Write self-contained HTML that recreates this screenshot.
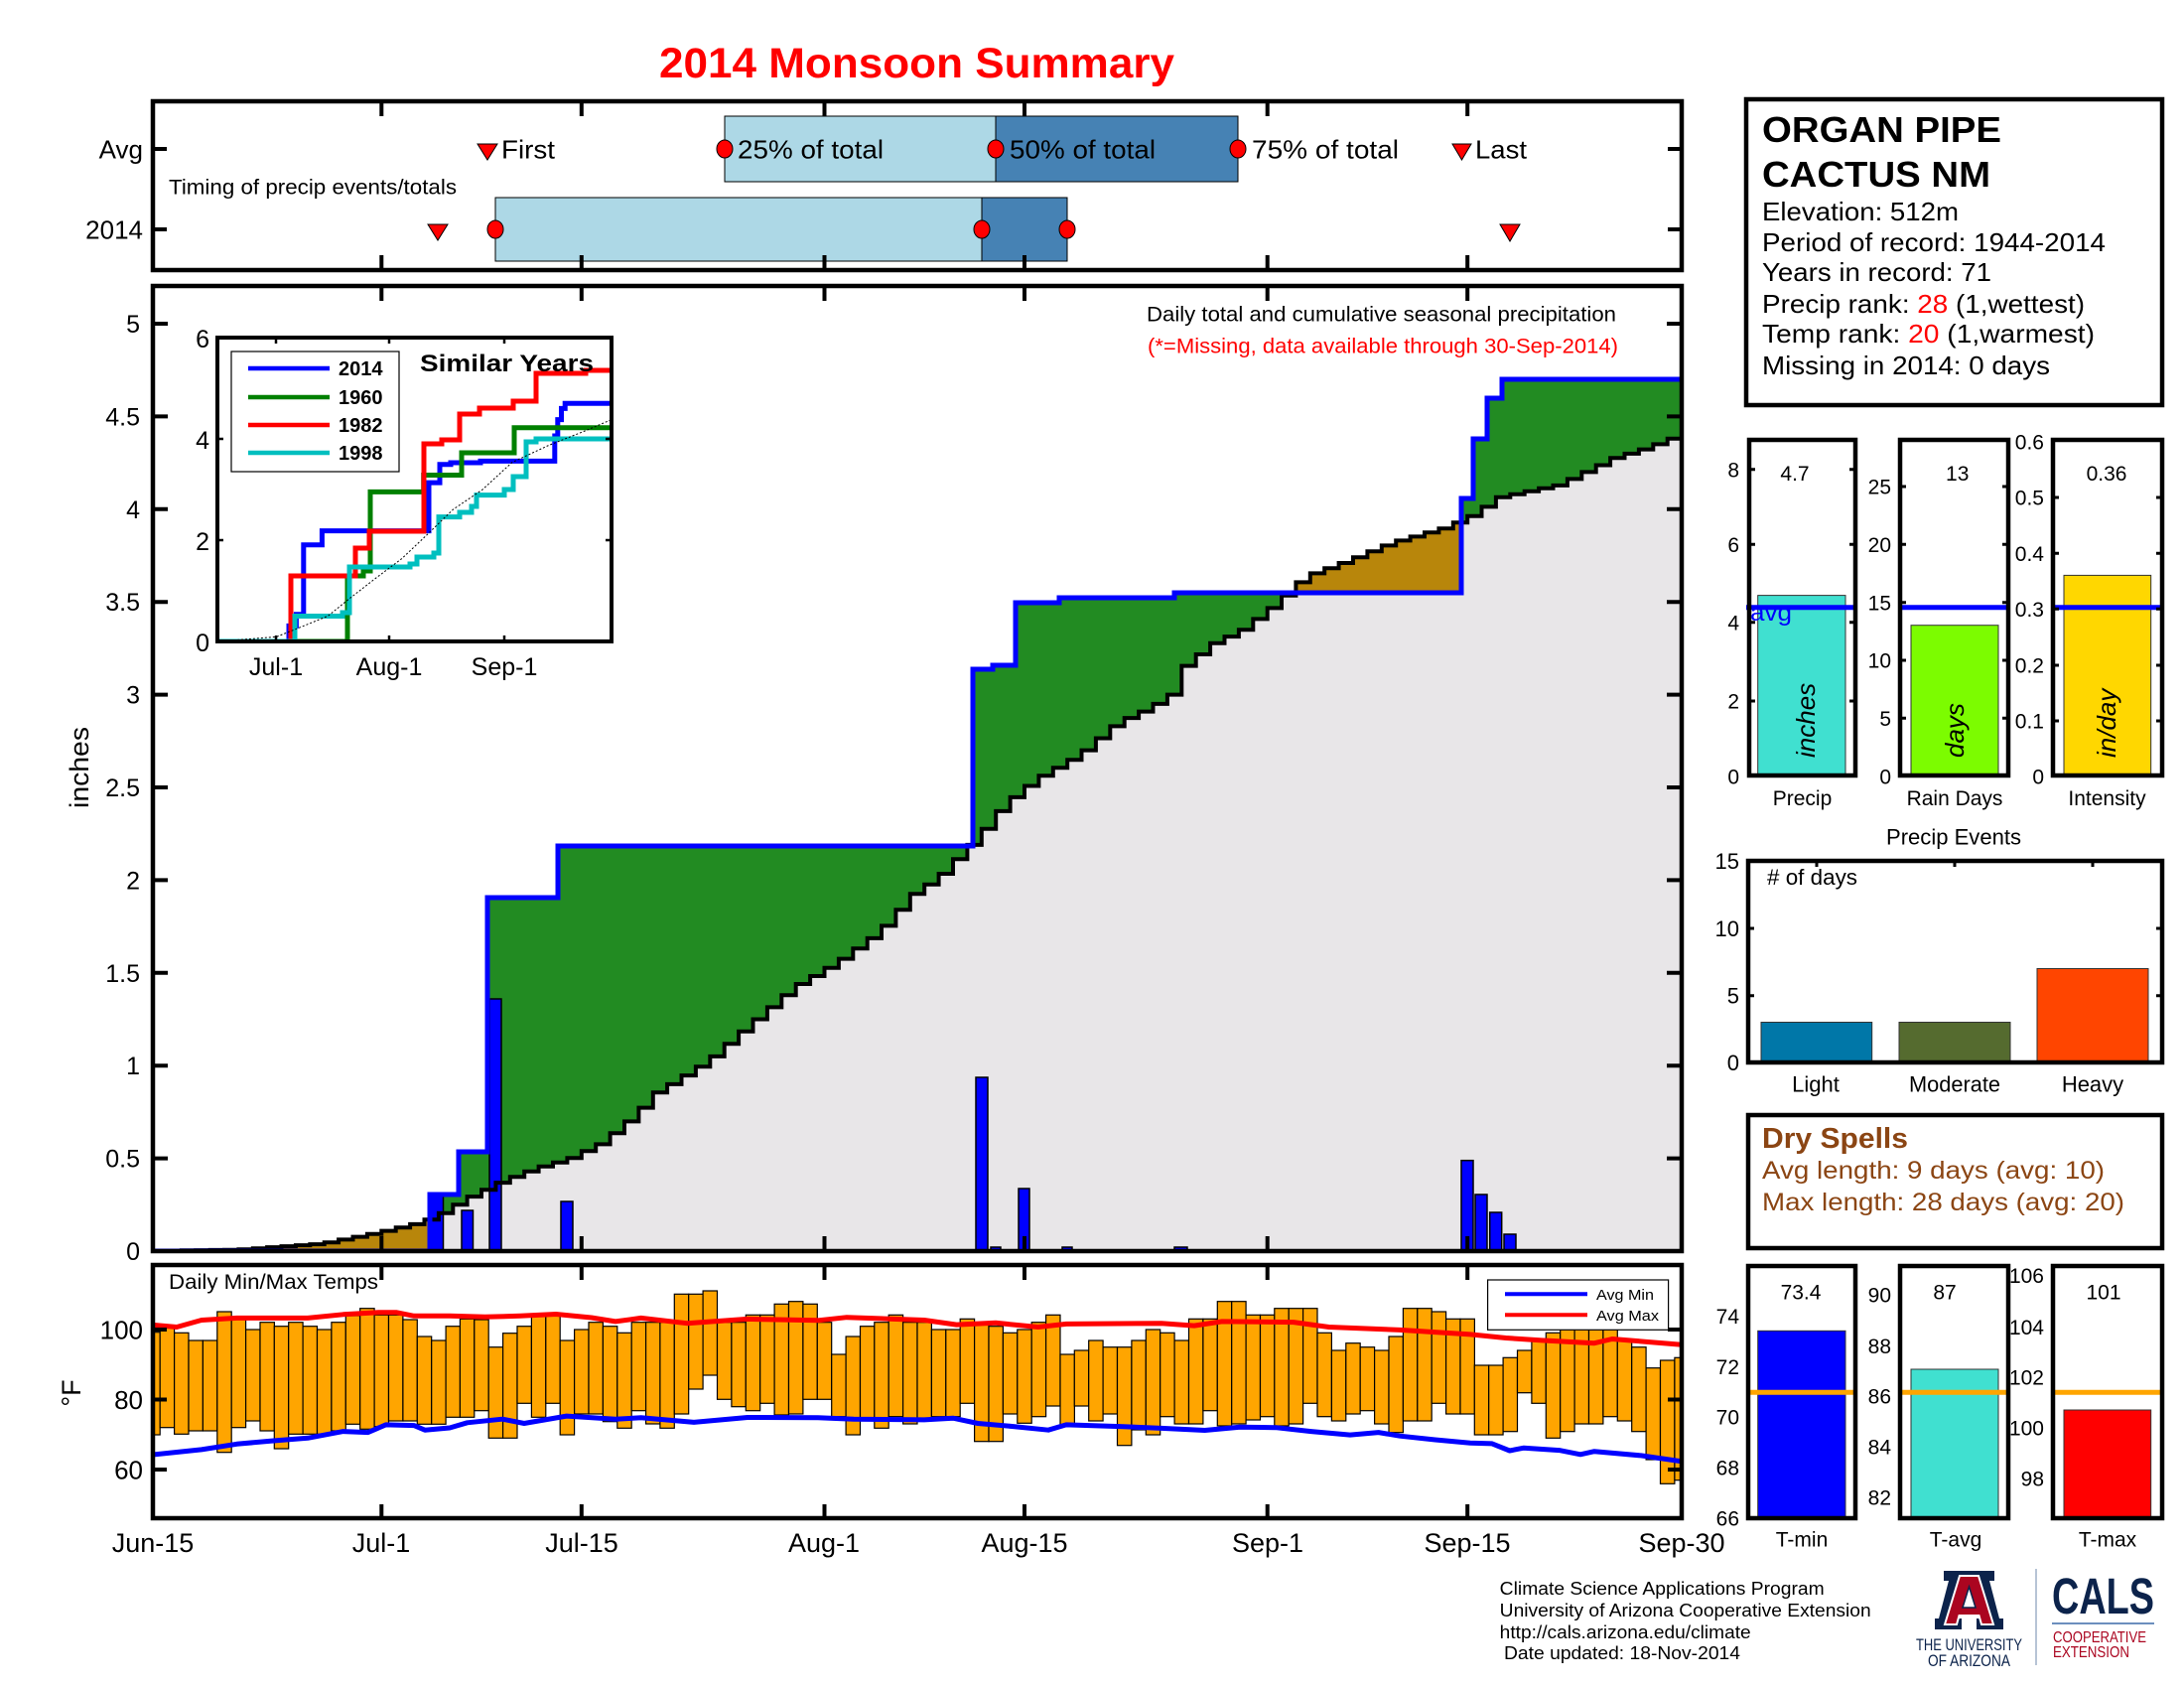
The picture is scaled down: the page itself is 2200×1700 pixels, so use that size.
<!DOCTYPE html>
<html><head><meta charset="utf-8">
<style>
html,body{margin:0;padding:0;background:#fff;}
svg{display:block;}
text{font-family:"Liberation Sans",Arial,sans-serif;}
</style></head><body>
<svg width="2200" height="1700" viewBox="0 0 2200 1700">
<defs>
<clipPath id="c2014"><path d="M154 1260 H433 V1203 H462 V1160 H491 V904 H562 V852 H980 V674 H1000 V670 H1023 V607 H1067 V602 H1183 V597 H1472 V502 H1484 V442 H1498 V401 H1513 V382 H1694 V1260 Z"/></clipPath>
<clipPath id="cmain"><rect x="154" y="288" width="1540" height="972"/></clipPath>
<clipPath id="ctemp"><rect x="154" y="1274" width="1540" height="255"/></clipPath>
<clipPath id="cinset"><rect x="219" y="340" width="397" height="306"/></clipPath>
</defs>
<rect x="0" y="0" width="2200" height="1700" fill="#fff"/>

<!-- Title -->
<text x="664" y="78" font-size="43" font-weight="bold" fill="#FF0000" textLength="519" lengthAdjust="spacingAndGlyphs">2014 Monsoon Summary</text>

<!-- Timing panel -->
<rect x="730" y="117" width="273" height="66" fill="#ADD8E6" stroke="#000" stroke-width="1"/>
<rect x="1003" y="117" width="244" height="66" fill="#4682B4" stroke="#000" stroke-width="1"/>
<rect x="499" y="199" width="490" height="64" fill="#ADD8E6" stroke="#000" stroke-width="1"/>
<rect x="989" y="199" width="86" height="64" fill="#4682B4" stroke="#000" stroke-width="1"/>
<g fill="#FF0000" stroke="#000" stroke-width="1">
<ellipse cx="730" cy="150" rx="8" ry="9"/>
<ellipse cx="1003" cy="150" rx="8" ry="9"/>
<ellipse cx="1247" cy="150" rx="8" ry="9"/>
<ellipse cx="499" cy="231" rx="8" ry="9"/>
<ellipse cx="989" cy="231" rx="8" ry="9"/>
<ellipse cx="1075" cy="231" rx="8" ry="9"/>
<polygon points="481,145 501,145 491,161"/>
<polygon points="431,226 451,226 441,242"/>
<polygon points="1463,145 1482,145 1472.5,161"/>
<polygon points="1511,226 1531,226 1521,243"/>
</g>
<g font-size="26" fill="#000">
<text x="505" y="159.5" textLength="54" lengthAdjust="spacingAndGlyphs">First</text>
<text x="743" y="159.5" textLength="147" lengthAdjust="spacingAndGlyphs">25% of total</text>
<text x="1017" y="159.5" textLength="147" lengthAdjust="spacingAndGlyphs">50% of total</text>
<text x="1261" y="159.5" textLength="148" lengthAdjust="spacingAndGlyphs">75% of total</text>
<text x="1486" y="159.5" textLength="52" lengthAdjust="spacingAndGlyphs">Last</text>
<text x="144" y="159.5" text-anchor="end">Avg</text>
<text x="144" y="240.5" text-anchor="end">2014</text>
</g>
<text x="170" y="195.5" font-size="21" textLength="290" lengthAdjust="spacingAndGlyphs">Timing of precip events/totals</text>
<g stroke="#000" stroke-width="4">
<path d="M384.3 102 V117 M585.8 102 V117 M830.5 102 V117 M1032 102 V117 M1276.7 102 V117 M1478.2 102 V117"/>
<path d="M384.3 257 V272 M585.8 257 V272 M830.5 257 V272 M1032 257 V272 M1276.7 257 V272 M1478.2 257 V272"/>
<path d="M154 150 H168 M154 231 H168 M1680 150 H1694 M1680 231 H1694"/>
</g>
<rect x="154" y="102" width="1540" height="170" fill="none" stroke="#000" stroke-width="4.5"/>

<!-- Main precip panel fills -->
<g clip-path="url(#cmain)">
<path d="M154 1260 H433 V1203 H462 V1160 H491 V904 H562 V852 H980 V674 H1000 V670 H1023 V607 H1067 V602 H1183 V597 H1472 V502 H1484 V442 H1498 V401 H1513 V382 H1694 V1260 Z" fill="#228B22"/>
<path d="M154 1260 V1259.8 H168.4 V1259.6 H182.8 V1259.3 H197.2 V1259.1 H211.6 V1258.9 H226 V1258.7 H240.4 V1258.2 H254.8 V1257.2 H269.1 V1256.1 H283.5 V1255.1 H297.9 V1254.1 H312.3 V1253.1 H326.7 V1251.2 H341.1 V1248.4 H355.5 V1245.6 H369.9 V1242.8 H384.3 V1239.6 H398.7 V1236.3 H413.1 V1232.9 H427.5 V1228.2 H441.9 V1221.7 H456.3 V1213.3 H470.6 V1205.1 H485 V1198.2 H499.4 V1191.1 H513.8 V1185.3 H528.2 V1179.7 H542.6 V1174.8 H557 V1170.7 H571.4 V1166.2 H585.8 V1159.3 H600.2 V1152.4 H614.6 V1141.2 H629 V1129.4 H643.4 V1115.6 H657.8 V1100.3 H672.1 V1091.9 H686.5 V1083.1 H700.9 V1074.3 H715.3 V1063.9 H729.7 V1051.3 H744.1 V1038.8 H758.5 V1026.5 H772.9 V1014.4 H787.3 V1002.2 H801.7 V991 H816.1 V983 H830.5 V974.8 H844.9 V965.6 H859.3 V955.3 H873.7 V944.9 H888 V932.4 H902.4 V916.3 H916.8 V900.2 H931.2 V890.7 H945.6 V880 H960 V865.3 H974.4 V850.9 H988.8 V834.7 H1003.2 V816.9 H1017.6 V802.9 H1032 V791.5 H1046.4 V781.2 H1060.8 V773.2 H1075.2 V765.2 H1089.5 V755.6 H1103.9 V743.5 H1118.3 V731.4 H1132.7 V723.1 H1147.1 V716.6 H1161.5 V708.9 H1175.9 V699.6 H1190.3 V670.6 H1204.7 V659 H1219.1 V647.8 H1233.5 V641.1 H1247.9 V634.2 H1262.3 V623.4 H1276.7 V612.4 H1291 V599.7 H1305.4 V586.4 H1319.8 V577.4 H1334.2 V572.2 H1348.6 V567 H1363 V561.2 H1377.4 V555.2 H1391.8 V549.4 H1406.2 V544.4 H1420.6 V540.4 H1435 V536.3 H1449.4 V532.2 H1463.8 V526.2 H1478.2 V519.7 H1492.5 V510.4 H1506.9 V500.7 H1521.3 V497.7 H1535.7 V494.7 H1550.1 V491.7 H1564.5 V488.9 H1578.9 V482.4 H1593.3 V475.4 H1607.7 V468.5 H1622.1 V461.2 H1636.5 V456.9 H1650.9 V452.6 H1665.3 V447.4 H1679.7 V441.8 H1694 V1260 Z" fill="#B8860B"/>
<path d="M154 1260 V1259.8 H168.4 V1259.6 H182.8 V1259.3 H197.2 V1259.1 H211.6 V1258.9 H226 V1258.7 H240.4 V1258.2 H254.8 V1257.2 H269.1 V1256.1 H283.5 V1255.1 H297.9 V1254.1 H312.3 V1253.1 H326.7 V1251.2 H341.1 V1248.4 H355.5 V1245.6 H369.9 V1242.8 H384.3 V1239.6 H398.7 V1236.3 H413.1 V1232.9 H427.5 V1228.2 H441.9 V1221.7 H456.3 V1213.3 H470.6 V1205.1 H485 V1198.2 H499.4 V1191.1 H513.8 V1185.3 H528.2 V1179.7 H542.6 V1174.8 H557 V1170.7 H571.4 V1166.2 H585.8 V1159.3 H600.2 V1152.4 H614.6 V1141.2 H629 V1129.4 H643.4 V1115.6 H657.8 V1100.3 H672.1 V1091.9 H686.5 V1083.1 H700.9 V1074.3 H715.3 V1063.9 H729.7 V1051.3 H744.1 V1038.8 H758.5 V1026.5 H772.9 V1014.4 H787.3 V1002.2 H801.7 V991 H816.1 V983 H830.5 V974.8 H844.9 V965.6 H859.3 V955.3 H873.7 V944.9 H888 V932.4 H902.4 V916.3 H916.8 V900.2 H931.2 V890.7 H945.6 V880 H960 V865.3 H974.4 V850.9 H988.8 V834.7 H1003.2 V816.9 H1017.6 V802.9 H1032 V791.5 H1046.4 V781.2 H1060.8 V773.2 H1075.2 V765.2 H1089.5 V755.6 H1103.9 V743.5 H1118.3 V731.4 H1132.7 V723.1 H1147.1 V716.6 H1161.5 V708.9 H1175.9 V699.6 H1190.3 V670.6 H1204.7 V659 H1219.1 V647.8 H1233.5 V641.1 H1247.9 V634.2 H1262.3 V623.4 H1276.7 V612.4 H1291 V599.7 H1305.4 V586.4 H1319.8 V577.4 H1334.2 V572.2 H1348.6 V567 H1363 V561.2 H1377.4 V555.2 H1391.8 V549.4 H1406.2 V544.4 H1420.6 V540.4 H1435 V536.3 H1449.4 V532.2 H1463.8 V526.2 H1478.2 V519.7 H1492.5 V510.4 H1506.9 V500.7 H1521.3 V497.7 H1535.7 V494.7 H1550.1 V491.7 H1564.5 V488.9 H1578.9 V482.4 H1593.3 V475.4 H1607.7 V468.5 H1622.1 V461.2 H1636.5 V456.9 H1650.9 V452.6 H1665.3 V447.4 H1679.7 V441.8 H1694 V1260 Z" fill="#E8E6E8" clip-path="url(#c2014)"/>
<!-- daily bars -->
<g fill="#0000FF" stroke="#000" stroke-width="1.5">
<rect x="433" y="1203" width="13.5" height="57"/>
<rect x="465" y="1219" width="11.5" height="41"/>
<rect x="493" y="1006" width="12" height="254"/>
<rect x="565" y="1210" width="12" height="50"/>
<rect x="983" y="1085" width="12" height="175"/>
<rect x="998" y="1256" width="10" height="4"/>
<rect x="1026" y="1197" width="11" height="63"/>
<rect x="1070" y="1256" width="10" height="4"/>
<rect x="1183" y="1256" width="13" height="4"/>
<rect x="1472" y="1168.7" width="12" height="91.3"/>
<rect x="1486" y="1203" width="12" height="57"/>
<rect x="1500.7" y="1221" width="12" height="39"/>
<rect x="1515" y="1243" width="12" height="17"/>
</g>
<!-- avg line -->
<path d="M154 1259.8 H168.4 V1259.6 H182.8 V1259.3 H197.2 V1259.1 H211.6 V1258.9 H226 V1258.7 H240.4 V1258.2 H254.8 V1257.2 H269.1 V1256.1 H283.5 V1255.1 H297.9 V1254.1 H312.3 V1253.1 H326.7 V1251.2 H341.1 V1248.4 H355.5 V1245.6 H369.9 V1242.8 H384.3 V1239.6 H398.7 V1236.3 H413.1 V1232.9 H427.5 V1228.2 H441.9 V1221.7 H456.3 V1213.3 H470.6 V1205.1 H485 V1198.2 H499.4 V1191.1 H513.8 V1185.3 H528.2 V1179.7 H542.6 V1174.8 H557 V1170.7 H571.4 V1166.2 H585.8 V1159.3 H600.2 V1152.4 H614.6 V1141.2 H629 V1129.4 H643.4 V1115.6 H657.8 V1100.3 H672.1 V1091.9 H686.5 V1083.1 H700.9 V1074.3 H715.3 V1063.9 H729.7 V1051.3 H744.1 V1038.8 H758.5 V1026.5 H772.9 V1014.4 H787.3 V1002.2 H801.7 V991 H816.1 V983 H830.5 V974.8 H844.9 V965.6 H859.3 V955.3 H873.7 V944.9 H888 V932.4 H902.4 V916.3 H916.8 V900.2 H931.2 V890.7 H945.6 V880 H960 V865.3 H974.4 V850.9 H988.8 V834.7 H1003.2 V816.9 H1017.6 V802.9 H1032 V791.5 H1046.4 V781.2 H1060.8 V773.2 H1075.2 V765.2 H1089.5 V755.6 H1103.9 V743.5 H1118.3 V731.4 H1132.7 V723.1 H1147.1 V716.6 H1161.5 V708.9 H1175.9 V699.6 H1190.3 V670.6 H1204.7 V659 H1219.1 V647.8 H1233.5 V641.1 H1247.9 V634.2 H1262.3 V623.4 H1276.7 V612.4 H1291 V599.7 H1305.4 V586.4 H1319.8 V577.4 H1334.2 V572.2 H1348.6 V567 H1363 V561.2 H1377.4 V555.2 H1391.8 V549.4 H1406.2 V544.4 H1420.6 V540.4 H1435 V536.3 H1449.4 V532.2 H1463.8 V526.2 H1478.2 V519.7 H1492.5 V510.4 H1506.9 V500.7 H1521.3 V497.7 H1535.7 V494.7 H1550.1 V491.7 H1564.5 V488.9 H1578.9 V482.4 H1593.3 V475.4 H1607.7 V468.5 H1622.1 V461.2 H1636.5 V456.9 H1650.9 V452.6 H1665.3 V447.4 H1679.7 V441.8 H1694" fill="none" stroke="#000" stroke-width="4"/>
<!-- 2014 line -->
<path d="M154 1260 H433 V1203 H462 V1160 H491 V904 H562 V852 H980 V674 H1000 V670 H1023 V607 H1067 V602 H1183 V597 H1472 V502 H1484 V442 H1498 V401 H1513 V382 H1694" fill="none" stroke="#0000FF" stroke-width="5"/>
</g>
<!-- main ticks -->
<g stroke="#000" stroke-width="4">
<path d="M384.3 288 V303 M585.8 288 V303 M830.5 288 V303 M1032 288 V303 M1276.7 288 V303 M1478.2 288 V303"/>
<path d="M384.3 1245 V1260 M585.8 1245 V1260 M830.5 1245 V1260 M1032 1245 V1260 M1276.7 1245 V1260 M1478.2 1245 V1260"/>
<path d="M154 1166.6 H169 M154 1073.2 H169 M154 979.8 H169 M154 886.4 H169 M154 793 H169 M154 699.6 H169 M154 606.2 H169 M154 512.8 H169 M154 419.4 H169 M154 326 H169"/>
<path d="M1679 1166.6 H1694 M1679 1073.2 H1694 M1679 979.8 H1694 M1679 886.4 H1694 M1679 793 H1694 M1679 699.6 H1694 M1679 606.2 H1694 M1679 512.8 H1694 M1679 419.4 H1694 M1679 326 H1694"/>
</g>
<rect x="154" y="288" width="1540" height="972" fill="none" stroke="#000" stroke-width="4.5"/>
<g font-size="25" text-anchor="end">
<text x="141" y="1269">0</text>
<text x="141" y="1175.6">0.5</text>
<text x="141" y="1082.2">1</text>
<text x="141" y="988.8">1.5</text>
<text x="141" y="895.4">2</text>
<text x="141" y="802">2.5</text>
<text x="141" y="708.6">3</text>
<text x="141" y="615.2">3.5</text>
<text x="141" y="521.8">4</text>
<text x="141" y="428.4">4.5</text>
<text x="141" y="335">5</text>
</g>
<text transform="translate(89,773) rotate(-90)" font-size="27" text-anchor="middle" textLength="82" lengthAdjust="spacingAndGlyphs">inches</text>
<text x="1155" y="323.5" font-size="21" textLength="473" lengthAdjust="spacingAndGlyphs">Daily total and cumulative seasonal precipitation</text>
<text x="1156" y="355.5" font-size="21" fill="#FF0000" textLength="474" lengthAdjust="spacingAndGlyphs">(*=Missing, data available through 30-Sep-2014)</text>

<!-- Inset -->
<rect x="219" y="340" width="397" height="306" fill="#fff"/>
<g clip-path="url(#cinset)" fill="none" stroke-width="5">
<path d="M219 646 H291 V630.4 H298.4 V618.7 H305.8 V548.7 H324.4 V534.6 H432 V486.1 H443 V467.8 H454 V466 H484 V464.4 H558.8 V439 H561.8 V422.6 H565.5 V411.4 H569.2 V406.3 H616" stroke="#0000FF"/>
<path d="M219 646 H350 V580 H366 V575 H373 V495.4 H426.7 V478.5 H465 V456 H518 V430.7 H616" stroke="#008000"/>
<path d="M219 646 H293 V580 H358 V552 H372 V535 H427 V447 H445 V443 H463 V417 H483 V411 H517 V404 H540 V376 H590 V373 H616" stroke="#FF0000"/>
<path d="M219 646 H297 V620.5 H345 V617 H352 V571 H413 V568 H420 V561 H437 V557 H442 V520.6 H463 V516 H475 V510 H480 V498.6 H508 V493 H517 V480 H530 V445 H540 V442 H616" stroke="#00BFBF"/>
<path d="M219 646 L278.4 641.4 L304.3 631 L330.3 620.4 L352.6 602.4 L378.5 582.3 L404.5 562.8 L430.5 538.2 L456.4 513.1 L486.1 493 L515.8 465.7 L552.9 448.4 L590 433.7 L616 422.6" stroke="#000" stroke-width="1" stroke-dasharray="2 2"/>
</g>
<g stroke="#000" stroke-width="2.5">
<path d="M278 340 V346 M392 340 V346 M508 340 V346 M278 640 V646 M392 640 V646 M508 640 V646"/>
<path d="M219 442 H225 M219 544 H225 M610 442 H616 M610 544 H616"/>
</g>
<rect x="219" y="340" width="397" height="306" fill="none" stroke="#000" stroke-width="4"/>
<rect x="233" y="354" width="169" height="121" fill="#fff" stroke="#000" stroke-width="1.2"/>
<g stroke-width="4.5">
<line x1="250" y1="371" x2="332" y2="371" stroke="#0000FF"/>
<line x1="250" y1="400" x2="332" y2="400" stroke="#008000"/>
<line x1="250" y1="428" x2="332" y2="428" stroke="#FF0000"/>
<line x1="250" y1="456" x2="332" y2="456" stroke="#00BFBF"/>
</g>
<g font-size="20" font-weight="bold">
<text x="341" y="378">2014</text>
<text x="341" y="407">1960</text>
<text x="341" y="435">1982</text>
<text x="341" y="463">1998</text>
</g>
<text x="423" y="374" font-size="24" font-weight="bold" textLength="175" lengthAdjust="spacingAndGlyphs">Similar Years</text>
<g font-size="25" text-anchor="end">
<text x="211" y="656">0</text>
<text x="211" y="554">2</text>
<text x="211" y="452">4</text>
<text x="211" y="350">6</text>
</g>
<g font-size="25" text-anchor="middle">
<text x="278" y="680">Jul-1</text>
<text x="392" y="680">Aug-1</text>
<text x="508" y="680">Sep-1</text>
</g>

<!-- Temps panel -->
<g clip-path="url(#ctemp)" fill="#FFA500" stroke="#000" stroke-width="1.2">
<rect x="146.8" y="1341.7" width="14.39" height="103.3"/>
<rect x="161.2" y="1335" width="14.39" height="102.7"/>
<rect x="175.6" y="1342.3" width="14.39" height="102"/>
<rect x="190" y="1350" width="14.39" height="91"/>
<rect x="204.4" y="1350" width="14.39" height="91"/>
<rect x="218.8" y="1321" width="14.39" height="141.7"/>
<rect x="233.2" y="1328.3" width="14.39" height="109.4"/>
<rect x="247.6" y="1339" width="14.39" height="92"/>
<rect x="262" y="1331.7" width="14.39" height="109.3"/>
<rect x="276.3" y="1335.7" width="14.39" height="123.3"/>
<rect x="290.7" y="1331.7" width="14.39" height="112.6"/>
<rect x="305.1" y="1335.7" width="14.39" height="108.6"/>
<rect x="319.5" y="1339" width="14.39" height="105.3"/>
<rect x="333.9" y="1331.7" width="14.39" height="109.3"/>
<rect x="348.3" y="1325" width="14.39" height="109.3"/>
<rect x="362.7" y="1317.7" width="14.39" height="121.6"/>
<rect x="377.1" y="1324.3" width="14.39" height="112.4"/>
<rect x="391.5" y="1324.3" width="14.39" height="106.7"/>
<rect x="405.9" y="1329" width="14.39" height="102"/>
<rect x="420.3" y="1346" width="14.39" height="88.3"/>
<rect x="434.7" y="1350" width="14.39" height="84.3"/>
<rect x="449.1" y="1335.7" width="14.39" height="91.6"/>
<rect x="463.4" y="1328.3" width="14.39" height="99"/>
<rect x="477.8" y="1329" width="14.39" height="91.7"/>
<rect x="492.2" y="1356.7" width="14.39" height="91.6"/>
<rect x="506.6" y="1342.7" width="14.39" height="105.6"/>
<rect x="521" y="1335.7" width="14.39" height="77.6"/>
<rect x="535.4" y="1325" width="14.39" height="102.3"/>
<rect x="549.8" y="1325" width="14.39" height="88.3"/>
<rect x="564.2" y="1350" width="14.39" height="95"/>
<rect x="578.6" y="1339" width="14.39" height="85"/>
<rect x="593" y="1331.7" width="14.39" height="92.3"/>
<rect x="607.4" y="1335.7" width="14.39" height="96"/>
<rect x="621.8" y="1342.3" width="14.39" height="96"/>
<rect x="636.2" y="1331.7" width="14.39" height="89"/>
<rect x="650.6" y="1331.7" width="14.39" height="102.3"/>
<rect x="664.9" y="1331.7" width="14.39" height="106.6"/>
<rect x="679.3" y="1303.3" width="14.39" height="120.7"/>
<rect x="693.7" y="1303.3" width="14.39" height="95.7"/>
<rect x="708.1" y="1300" width="14.39" height="85"/>
<rect x="722.5" y="1331.7" width="14.39" height="77.6"/>
<rect x="736.9" y="1331.7" width="14.39" height="85"/>
<rect x="751.3" y="1324.3" width="14.39" height="96.4"/>
<rect x="765.7" y="1324.3" width="14.39" height="89"/>
<rect x="780.1" y="1313.3" width="14.39" height="111.7"/>
<rect x="794.5" y="1310.7" width="14.39" height="113.3"/>
<rect x="808.9" y="1313.3" width="14.39" height="96"/>
<rect x="823.3" y="1331.7" width="14.39" height="77.6"/>
<rect x="837.7" y="1364" width="14.39" height="62.7"/>
<rect x="852.1" y="1346" width="14.39" height="99"/>
<rect x="866.5" y="1335.7" width="14.39" height="94.3"/>
<rect x="880.8" y="1331.7" width="14.39" height="106.6"/>
<rect x="895.2" y="1324.3" width="14.39" height="102.4"/>
<rect x="909.6" y="1331.7" width="14.39" height="102.3"/>
<rect x="924" y="1331.7" width="14.39" height="97.6"/>
<rect x="938.4" y="1339" width="14.39" height="87.7"/>
<rect x="952.8" y="1339" width="14.39" height="87.7"/>
<rect x="967.2" y="1328.3" width="14.39" height="85"/>
<rect x="981.6" y="1331.7" width="14.39" height="120"/>
<rect x="996" y="1335.7" width="14.39" height="116"/>
<rect x="1010.4" y="1342.3" width="14.39" height="81.7"/>
<rect x="1024.8" y="1339" width="14.39" height="94.3"/>
<rect x="1039.2" y="1331.7" width="14.39" height="95"/>
<rect x="1053.6" y="1324.3" width="14.39" height="91.7"/>
<rect x="1068" y="1364" width="14.39" height="71"/>
<rect x="1082.3" y="1360" width="14.39" height="56"/>
<rect x="1096.7" y="1350" width="14.39" height="81"/>
<rect x="1111.1" y="1356.7" width="14.39" height="67.3"/>
<rect x="1125.5" y="1356.7" width="14.39" height="99"/>
<rect x="1139.9" y="1350" width="14.39" height="90"/>
<rect x="1154.3" y="1339" width="14.39" height="106"/>
<rect x="1168.7" y="1342.3" width="14.39" height="84.4"/>
<rect x="1183.1" y="1350" width="14.39" height="84"/>
<rect x="1197.5" y="1328.3" width="14.39" height="105.7"/>
<rect x="1211.9" y="1328.3" width="14.39" height="92.4"/>
<rect x="1226.3" y="1310.7" width="14.39" height="125.3"/>
<rect x="1240.7" y="1310.7" width="14.39" height="123.3"/>
<rect x="1255.1" y="1324.3" width="14.39" height="105.7"/>
<rect x="1269.5" y="1324.3" width="14.39" height="102.4"/>
<rect x="1283.8" y="1317.7" width="14.39" height="118.3"/>
<rect x="1298.2" y="1317.7" width="14.39" height="116.3"/>
<rect x="1312.6" y="1317.7" width="14.39" height="95.6"/>
<rect x="1327" y="1342.3" width="14.39" height="84.4"/>
<rect x="1341.4" y="1360" width="14.39" height="71"/>
<rect x="1355.8" y="1352.7" width="14.39" height="71.3"/>
<rect x="1370.2" y="1356.7" width="14.39" height="64"/>
<rect x="1384.6" y="1360" width="14.39" height="74"/>
<rect x="1399" y="1346" width="14.39" height="96.7"/>
<rect x="1413.4" y="1317.7" width="14.39" height="113.3"/>
<rect x="1427.8" y="1317.7" width="14.39" height="113.3"/>
<rect x="1442.2" y="1321" width="14.39" height="92.3"/>
<rect x="1456.6" y="1328.3" width="14.39" height="95.7"/>
<rect x="1471" y="1328.3" width="14.39" height="95.7"/>
<rect x="1485.3" y="1375" width="14.39" height="70"/>
<rect x="1499.7" y="1375" width="14.39" height="70"/>
<rect x="1514.1" y="1367.3" width="14.39" height="74.4"/>
<rect x="1528.5" y="1360" width="14.39" height="42.7"/>
<rect x="1542.9" y="1350" width="14.39" height="63.3"/>
<rect x="1557.3" y="1342.3" width="14.39" height="106"/>
<rect x="1571.7" y="1339" width="14.39" height="102.7"/>
<rect x="1586.1" y="1336.7" width="14.39" height="97.3"/>
<rect x="1600.5" y="1336.7" width="14.39" height="97.3"/>
<rect x="1614.9" y="1339" width="14.39" height="87.7"/>
<rect x="1629.3" y="1350" width="14.39" height="81"/>
<rect x="1643.7" y="1356.7" width="14.39" height="85"/>
<rect x="1658.1" y="1377.7" width="14.39" height="92.3"/>
<rect x="1672.5" y="1370" width="14.39" height="124.3"/>
<rect x="1686.9" y="1367.3" width="14.39" height="123.4"/>
</g>
<g clip-path="url(#ctemp)" fill="none" stroke-width="5" stroke-linejoin="round">
<polyline stroke="#FF0000" points="154,1334.4 178,1336.5 203,1329.5 238.6,1327.4 274,1327.4 310,1327.4 345.7,1323.8 381.4,1321.7 399,1321.7 417,1325.3 453,1325.3 488.6,1326.3 524,1325.3 560,1323.5 595.7,1327 620,1330.9 645.7,1327.4 692,1332.7 752.9,1328.4 824,1329.8 853,1326.7 931,1329.5 963.6,1334.1 1003,1332.3 1045.7,1336.5 1074,1333.4 1170,1332.7 1203,1335.1 1231,1330.9 1303,1331.6 1338.6,1336.5 1410,1339.4 1481,1343.9 1517,1347.5 1553,1349.9 1606,1352.7 1624,1348.5 1694,1354.2"/>
<polyline stroke="#0000FF" points="154,1465 203,1459.9 238.6,1454.3 274,1451.1 310,1448.3 345.7,1441.6 370.7,1442.6 388.6,1434.9 417,1435.6 428,1440.2 453,1438 470.7,1432.8 506,1429.2 528,1433.5 570.7,1426.1 620,1429.2 645.7,1427.8 699,1432.4 753,1427.5 824,1427.8 860,1429.2 931,1429.9 960,1428.2 985,1433.5 1020.7,1436.6 1056,1440.2 1074,1434.9 1128,1436.6 1170,1438.4 1213.6,1440.5 1249,1437.3 1285,1437.7 1320.7,1441.6 1360,1445.1 1388.6,1442.6 1410,1446.2 1445.7,1450 1481,1453.2 1503,1453.9 1520.7,1461 1535,1458.2 1570.7,1460.6 1592,1464.8 1606,1461.7 1653,1465.9 1694,1471.8"/>
</g>
<rect x="1498.6" y="1289" width="182" height="50.3" fill="#fff" stroke="#000" stroke-width="1.2"/>
<line x1="1516" y1="1303.3" x2="1599" y2="1303.3" stroke="#0000FF" stroke-width="4"/>
<line x1="1516" y1="1324.3" x2="1599" y2="1324.3" stroke="#FF0000" stroke-width="4"/>
<text x="1608" y="1308.8" font-size="15" textLength="58" lengthAdjust="spacingAndGlyphs">Avg Min</text>
<text x="1608" y="1329.8" font-size="15" textLength="63" lengthAdjust="spacingAndGlyphs">Avg Max</text>
<g stroke="#000" stroke-width="4">
<path d="M384.3 1274 V1289 M585.8 1274 V1289 M830.5 1274 V1289 M1032 1274 V1289 M1276.7 1274 V1289 M1478.2 1274 V1289"/>
<path d="M384.3 1515 V1529 M585.8 1515 V1529 M830.5 1515 V1529 M1032 1515 V1529 M1276.7 1515 V1529 M1478.2 1515 V1529"/>
<path d="M154 1339 H168 M154 1409.5 H168 M154 1480 H168 M1680 1339 H1694 M1680 1409.5 H1694 M1680 1480 H1694"/>
</g>
<rect x="154" y="1274" width="1540" height="255" fill="none" stroke="#000" stroke-width="4.5"/>
<text x="170" y="1298" font-size="21" textLength="211" lengthAdjust="spacingAndGlyphs">Daily Min/Max Temps</text>
<g font-size="26" text-anchor="end">
<text x="144" y="1348.5">100</text>
<text x="144" y="1419">80</text>
<text x="144" y="1489.5">60</text>
</g>
<text transform="translate(81,1403) rotate(-90)" font-size="27" text-anchor="middle">°F</text>
<g font-size="27" text-anchor="middle">
<text x="154" y="1563">Jun-15</text>
<text x="384" y="1563">Jul-1</text>
<text x="586" y="1563">Jul-15</text>
<text x="830" y="1563">Aug-1</text>
<text x="1032" y="1563">Aug-15</text>
<text x="1277" y="1563">Sep-1</text>
<text x="1478" y="1563">Sep-15</text>
<text x="1694" y="1563">Sep-30</text>
</g>

<!-- Info box -->
<rect x="1759" y="100" width="419" height="308" fill="none" stroke="#000" stroke-width="4.5"/>
<g font-size="36" font-weight="bold">
<text x="1775" y="143" textLength="241" lengthAdjust="spacingAndGlyphs">ORGAN PIPE</text>
<text x="1775" y="188" textLength="230" lengthAdjust="spacingAndGlyphs">CACTUS NM</text>
</g>
<g font-size="26">
<text x="1775" y="222" textLength="198" lengthAdjust="spacingAndGlyphs">Elevation: 512m</text>
<text x="1775" y="253" textLength="346" lengthAdjust="spacingAndGlyphs">Period of record: 1944-2014</text>
<text x="1775" y="283" textLength="231" lengthAdjust="spacingAndGlyphs">Years in record: 71</text>
<text x="1775" y="315" textLength="325" lengthAdjust="spacingAndGlyphs">Precip rank: <tspan fill="#FF0000">28</tspan> (1,wettest)</text>
<text x="1775" y="345" textLength="335" lengthAdjust="spacingAndGlyphs">Temp rank: <tspan fill="#FF0000">20</tspan> (1,warmest)</text>
<text x="1775" y="377" textLength="290" lengthAdjust="spacingAndGlyphs">Missing in 2014: 0 days</text>
</g>

<!-- Precip / Rain days / Intensity panels -->
<rect x="1770.7" y="599.6" width="88.3" height="181.4" fill="#40E0D0" stroke="#333" stroke-width="1"/>
<rect x="1925" y="629.7" width="88" height="151.3" fill="#7CFC00" stroke="#333" stroke-width="1"/>
<rect x="2079" y="579.4" width="87.7" height="201.6" fill="#FFD700" stroke="#333" stroke-width="1"/>
<g stroke="#0000FF" stroke-width="5">
<line x1="1759" y1="611.7" x2="1869" y2="611.7"/>
<line x1="1914" y1="611.7" x2="2023" y2="611.7"/>
<line x1="2068" y1="611.7" x2="2178" y2="611.7"/>
</g>
<text x="1763" y="625" font-size="24" fill="#0000FF" textLength="42" lengthAdjust="spacingAndGlyphs">avg</text>
<g font-size="26" font-style="italic">
<text transform="translate(1828,763) rotate(-90)">inches</text>
<text transform="translate(1978,763) rotate(-90)">days</text>
<text transform="translate(2131,763) rotate(-90)">in/day</text>
</g>
<g stroke="#000" stroke-width="3">
<path d="M1762 472.7 H1768 M1762 548.3 H1768 M1762 626.7 H1768 M1762 706 H1768 M1863 472.7 H1869 M1863 548.3 H1869 M1863 626.7 H1869 M1863 706 H1869"/>
<path d="M1914 490 H1920 M1914 548.3 H1920 M1914 606.7 H1920 M1914 665 H1920 M1914 723.3 H1920 M2017 490 H2023 M2017 548.3 H2023 M2017 606.7 H2023 M2017 665 H2023 M2017 723.3 H2023"/>
<path d="M2068 501 H2074 M2068 557.3 H2074 M2068 613.3 H2074 M2068 670 H2074 M2068 726 H2074 M2172 501 H2178 M2172 557.3 H2178 M2172 613.3 H2178 M2172 670 H2178 M2172 726 H2178"/>
</g>
<g fill="none" stroke="#000" stroke-width="4.5">
<rect x="1762" y="443" width="107" height="338"/>
<rect x="1914" y="443" width="109" height="338"/>
<rect x="2068" y="443" width="110" height="338"/>
</g>
<g font-size="21" text-anchor="end">
<text x="1752" y="789.5">0</text>
<text x="1752" y="713.7">2</text>
<text x="1752" y="634.4">4</text>
<text x="1752" y="556">6</text>
<text x="1752" y="480.4">8</text>
<text x="1905" y="789.5">0</text>
<text x="1905" y="731">5</text>
<text x="1905" y="672.7">10</text>
<text x="1905" y="614.4">15</text>
<text x="1905" y="556">20</text>
<text x="1905" y="497.7">25</text>
<text x="2059" y="789.5">0</text>
<text x="2059" y="733.7">0.1</text>
<text x="2059" y="677.7">0.2</text>
<text x="2059" y="621">0.3</text>
<text x="2059" y="565">0.4</text>
<text x="2059" y="508.7">0.5</text>
<text x="2059" y="452.7">0.6</text>
</g>
<g font-size="21" text-anchor="middle">
<text x="1808" y="484">4.7</text>
<text x="1971.7" y="484">13</text>
<text x="2122" y="484">0.36</text>
<text x="1815.5" y="811">Precip</text>
<text x="1969" y="811">Rain Days</text>
<text x="2122.5" y="811">Intensity</text>
</g>

<!-- Precip events -->
<text x="1968" y="850.5" font-size="22" text-anchor="middle" textLength="136" lengthAdjust="spacingAndGlyphs">Precip Events</text>
<rect x="1774" y="1029.5" width="111.7" height="40.5" fill="#0077A8" stroke="#333" stroke-width="1"/>
<rect x="1913" y="1029.5" width="112" height="40.5" fill="#556B2F" stroke="#333" stroke-width="1"/>
<rect x="2052" y="975.5" width="112" height="94.5" fill="#FF4500" stroke="#333" stroke-width="1"/>
<g stroke="#000" stroke-width="3">
<path d="M1761 935 H1767 M1761 1002.7 H1767 M2172 935 H2178 M2172 1002.7 H2178 M1830 867 V873 M1969 867 V873 M2108 867 V873"/>
</g>
<rect x="1761" y="867" width="417" height="203" fill="none" stroke="#000" stroke-width="4.5"/>
<text x="1780" y="891" font-size="22" textLength="91" lengthAdjust="spacingAndGlyphs"># of days</text>
<g font-size="22" text-anchor="end">
<text x="1752" y="875">15</text>
<text x="1752" y="943">10</text>
<text x="1752" y="1010.7">5</text>
<text x="1752" y="1078">0</text>
</g>
<g font-size="22" text-anchor="middle">
<text x="1829" y="1099.5">Light</text>
<text x="1969" y="1099.5" textLength="92" lengthAdjust="spacingAndGlyphs">Moderate</text>
<text x="2108" y="1099.5">Heavy</text>
</g>

<!-- Dry spells -->
<rect x="1761" y="1123" width="417" height="134" fill="none" stroke="#000" stroke-width="4.5"/>
<text x="1775" y="1156" font-size="29" font-weight="bold" fill="#8B4513" textLength="147" lengthAdjust="spacingAndGlyphs">Dry Spells</text>
<text x="1775" y="1187" font-size="25" fill="#8B4513" textLength="345" lengthAdjust="spacingAndGlyphs">Avg length: 9 days (avg: 10)</text>
<text x="1775" y="1219" font-size="25" fill="#8B4513" textLength="365" lengthAdjust="spacingAndGlyphs">Max length: 28 days (avg: 20)</text>

<!-- Temperature panels -->
<rect x="1770.7" y="1340.3" width="88.3" height="189" fill="#0000FF" stroke="#333" stroke-width="1"/>
<rect x="1925" y="1379" width="88" height="150" fill="#40E0D0" stroke="#333" stroke-width="1"/>
<rect x="2079" y="1420" width="87.7" height="109" fill="#FF0000" stroke="#333" stroke-width="1"/>
<g stroke="#FFA500" stroke-width="5">
<line x1="1761" y1="1402.3" x2="1869" y2="1402.3"/>
<line x1="1914" y1="1402.3" x2="2023" y2="1402.3"/>
<line x1="2068" y1="1402.3" x2="2178" y2="1402.3"/>
</g>
<g fill="none" stroke="#000" stroke-width="4.5">
<rect x="1761" y="1275" width="108" height="254"/>
<rect x="1914" y="1275" width="109" height="254"/>
<rect x="2068" y="1275" width="110" height="254"/>
</g>
<g font-size="21" text-anchor="end">
<text x="1752" y="1333">74</text>
<text x="1752" y="1384">72</text>
<text x="1752" y="1434.7">70</text>
<text x="1752" y="1485.3">68</text>
<text x="1752" y="1536.3">66</text>
<text x="1905" y="1311.3">90</text>
<text x="1905" y="1363">88</text>
<text x="1905" y="1413.7">86</text>
<text x="1905" y="1464.7">84</text>
<text x="1905" y="1515.3">82</text>
<text x="2059" y="1292">106</text>
<text x="2059" y="1344">104</text>
<text x="2059" y="1394.7">102</text>
<text x="2059" y="1445.7">100</text>
<text x="2059" y="1496.3">98</text>
</g>
<g font-size="21" text-anchor="middle">
<text x="1814" y="1308.5">73.4</text>
<text x="1959" y="1308.5">87</text>
<text x="2119" y="1308.5">101</text>
<text x="1815" y="1557.5">T-min</text>
<text x="1970" y="1557.5">T-avg</text>
<text x="2123" y="1557.5">T-max</text>
</g>

<!-- Footer -->
<g font-size="18">
<text x="1510.7" y="1606" textLength="327" lengthAdjust="spacingAndGlyphs">Climate Science Applications Program</text>
<text x="1510.7" y="1628" textLength="374" lengthAdjust="spacingAndGlyphs">University of Arizona Cooperative Extension</text>
<text x="1510.7" y="1650" textLength="253" lengthAdjust="spacingAndGlyphs">http://cals.arizona.edu/climate</text>
<text x="1515" y="1671" textLength="238" lengthAdjust="spacingAndGlyphs">Date updated: 18-Nov-2014</text>
</g>
<polygon points="1958,1582 2009,1582 2009,1592 2004,1592 2014,1630 2018,1630 2018,1641 1991,1641 1991,1630 1995,1630 1993,1623 1974,1623 1972,1630 1976,1630 1976,1641 1949,1641 1949,1630 1953,1630 1963,1592 1958,1592" fill="#0C234B"/>
<polygon points="1974,1587 1993,1587 2008,1636 1996,1636 1993.5,1627 1973.5,1627 1971,1636 1959,1636" fill="#AB0520" stroke="#fff" stroke-width="2"/>
<polygon points="1983.5,1598 1990,1619 1977,1619" fill="#fff" stroke="#0C234B" stroke-width="1.5"/>
<text x="1930" y="1662" font-size="17" fill="#0C234B" textLength="107" lengthAdjust="spacingAndGlyphs">THE UNIVERSITY</text>
<text x="1942" y="1678" font-size="17" fill="#0C234B" textLength="83" lengthAdjust="spacingAndGlyphs">OF ARIZONA</text>
<line x1="2051" y1="1580" x2="2051" y2="1677" stroke="#9FB0C8" stroke-width="1.5"/>
<text x="2067" y="1625" font-size="51" font-weight="bold" fill="#0C234B" textLength="103" lengthAdjust="spacingAndGlyphs">CALS</text>
<line x1="2067" y1="1635" x2="2170" y2="1635" stroke="#3B6AA8" stroke-width="1.5"/>
<text x="2068" y="1654" font-size="16" fill="#AB0520" textLength="94" lengthAdjust="spacingAndGlyphs">COOPERATIVE</text>
<text x="2068" y="1669" font-size="16" fill="#AB0520" textLength="77" lengthAdjust="spacingAndGlyphs">EXTENSION</text>
</svg>
</body></html>
